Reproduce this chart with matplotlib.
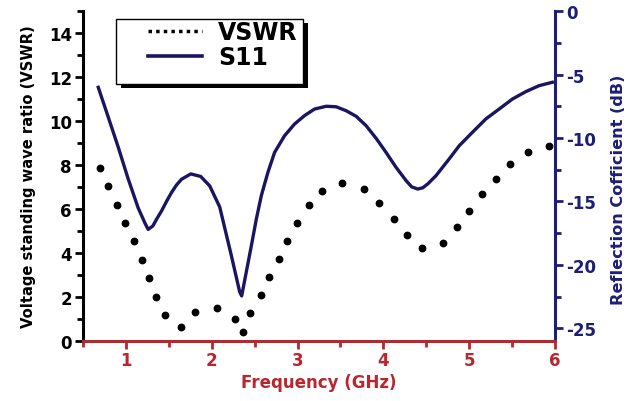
import matplotlib
matplotlib.use("Agg")
import matplotlib.pyplot as plt
from matplotlib.lines import Line2D
from matplotlib.patches import Rectangle
from matplotlib.ticker import MultipleLocator
import matplotlib.transforms as mtransforms

# VSWR samples (dots)
vswr_freq = [0.70, 0.79, 0.90, 0.99, 1.09, 1.19, 1.27, 1.35, 1.45, 1.64,
             1.81, 2.06, 2.27, 2.37, 2.45, 2.57, 2.67, 2.78, 2.88, 2.99,
             3.13, 3.29, 3.52, 3.77, 3.95, 4.12, 4.27, 4.45, 4.70, 4.86,
             5.00, 5.15, 5.31, 5.48, 5.69, 5.93]
vswr = [7.86, 7.05, 6.18, 5.36, 4.55, 3.68, 2.86, 2.00, 1.18, 0.64,
        1.32, 1.50, 1.00, 0.41, 1.27, 2.09, 2.91, 3.73, 4.55, 5.36,
        6.18, 6.82, 7.18, 6.91, 6.27, 5.55, 4.82, 4.23, 4.45, 5.18,
        5.91, 6.68, 7.36, 8.05, 8.59, 8.86]

# S11 curve (dB)
s11_freq = [0.678, 0.794, 0.910, 1.027, 1.143, 1.221, 1.259, 1.314, 1.357,
            1.415, 1.473, 1.531, 1.590, 1.648, 1.756, 1.872, 1.977, 2.093,
            2.229, 2.326, 2.349, 2.403, 2.462, 2.520, 2.578, 2.655, 2.733,
            2.849, 2.965, 3.081, 3.198, 3.334, 3.450, 3.566, 3.683, 3.799,
            3.915, 4.031, 4.148, 4.264, 4.330, 4.400, 4.460, 4.520, 4.613,
            4.767, 4.884, 5.038, 5.194, 5.349, 5.504, 5.659, 5.814, 5.969]
s11 = [-6.01, -8.35, -10.71, -13.23, -15.51, -16.69, -17.20, -16.93, -16.40,
       -15.75, -15.00, -14.30, -13.70, -13.25, -12.83, -13.03, -13.78, -15.43,
       -19.27, -22.13, -22.44, -20.55, -18.48, -16.38, -14.54, -12.70, -11.13,
       -9.82, -8.90, -8.24, -7.72, -7.50, -7.54, -7.85, -8.29, -9.03,
       -10.02, -11.13, -12.31, -13.35, -13.85, -14.02, -13.92, -13.60, -12.97,
       -11.65, -10.61, -9.55, -8.50, -7.72, -6.93, -6.35, -5.88, -5.61]

x_ticks = [1, 2, 3, 4, 5, 6]
labels = ["VSWR", "S11"]

RED = "#b8262e"
NAVY = "#1e1e78"
LINE = "#1a1560"

plt.rcParams["font.family"] = "DejaVu Sans"
plt.rcParams["font.weight"] = "bold"
plt.rcParams["axes.unicode_minus"] = False

fig = plt.figure(figsize=(6.35, 4.02), dpi=100)
ax = fig.add_axes([0.1307, 0.149, 0.7433, 0.821])
ax2 = ax.twinx()

ax.plot(vswr_freq, vswr, "o", color="black", markersize=4.6, zorder=3)
ax2.plot(s11_freq, s11, "-", color=LINE, linewidth=2.4,
         solid_joinstyle="round")

ax.set_xlim(0.5, 6)
ax.set_ylim(0, 15)
ax2.set_ylim(-26, 0)

ax.set_xticks(x_ticks)
ax.xaxis.set_minor_locator(MultipleLocator(0.5))
ax.yaxis.set_major_locator(MultipleLocator(2))
ax.yaxis.set_minor_locator(MultipleLocator(1))
ax2.yaxis.set_major_locator(MultipleLocator(5))
ax2.yaxis.set_minor_locator(MultipleLocator(2.5))

for a in (ax, ax2):
    a.spines["top"].set_visible(False)
ax2.spines["left"].set_visible(False)
ax2.spines["bottom"].set_visible(False)
ax.spines["right"].set_visible(False)

ax.spines["left"].set_linewidth(2.2)
ax.spines["left"].set_color("black")
ax.spines["bottom"].set_linewidth(2.2)
ax.spines["bottom"].set_color(RED)
ax2.spines["right"].set_linewidth(2.2)
ax2.spines["right"].set_color(NAVY)

ax.tick_params(axis="y", which="both", direction="out", width=2, colors="black",
               labelsize=12, pad=2)
ax.tick_params(axis="y", which="major", length=6)
ax.tick_params(axis="y", which="minor", length=4)
ax.tick_params(axis="x", which="both", direction="out", width=2, colors=RED,
               labelsize=12, pad=1)
ax.tick_params(axis="x", which="major", length=6)
ax.tick_params(axis="x", which="minor", length=4)
ax2.tick_params(axis="y", which="both", direction="out", width=2, colors=NAVY,
                labelsize=12, pad=2)
ax2.tick_params(axis="y", which="major", length=6)
ax2.tick_params(axis="y", which="minor", length=4)

ax.set_xlabel("Frequency (GHz)", color=RED, fontsize=12, fontweight="bold",
              labelpad=3)
ax.set_ylabel("Voltage standing wave ratio (VSWR)", color="black", fontsize=10.6,
              fontweight="bold")
ax.yaxis.set_label_coords(-0.100, 0.5)
ax2.set_ylabel("Reflection Cofficient (dB)", color=NAVY, fontsize=11.6,
               fontweight="bold")
ax2.yaxis.set_label_coords(1.118, 0.46)

# legend frame with a solid black drop shadow
box = (0.07, 0.779, 0.396, 0.197)
shadow_tr = mtransforms.offset_copy(ax.transAxes, fig=fig, x=5, y=-4,
                                    units="dots")
ax.add_patch(Rectangle(box[:2], box[2], box[3], transform=shadow_tr,
                       facecolor="black", edgecolor="none", zorder=5,
                       clip_on=False))
ax.add_patch(Rectangle(box[:2], box[2], box[3], transform=ax.transAxes,
                       facecolor="white", edgecolor="black", linewidth=1.0,
                       zorder=6, clip_on=False))

handles = [Line2D([], [], color="black", linestyle=(0, (1, 1.2)), linewidth=2.5),
           Line2D([], [], color=LINE, linewidth=2.6)]
leg = ax.legend(handles, labels, loc="upper left",
                bbox_to_anchor=(0.138, 0.972), borderaxespad=0, borderpad=0,
                frameon=False, prop={"weight": "bold", "size": 17},
                handlelength=2.3, handletextpad=0.65, labelspacing=0.05)
leg.set_zorder(7)

ax2.set_zorder(0)
ax.set_zorder(1)
ax.patch.set_visible(False)

fig.savefig("out.png", dpi=100)
